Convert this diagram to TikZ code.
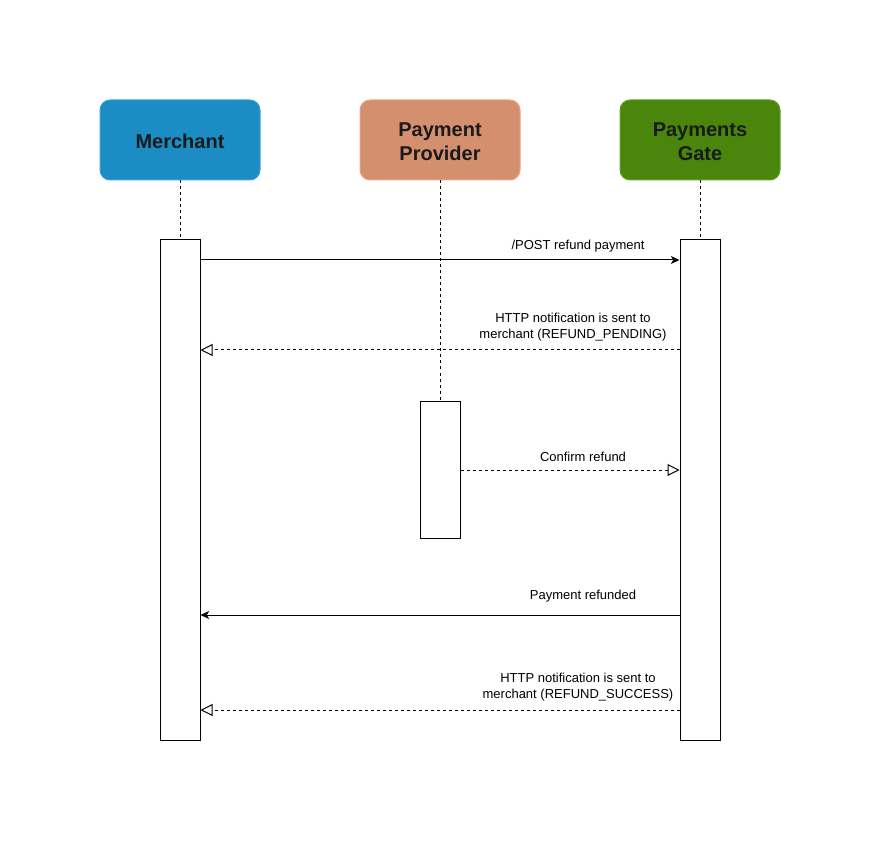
\documentclass[tikz,border=0pt]{standalone}
\usepackage{fontspec}
\setmainfont{Liberation Sans}
\usetikzlibrary{arrows.meta}
\definecolor{mfill}{HTML}{1B8CC4}
\definecolor{mline}{HTML}{3FA3DA}
\definecolor{pfill}{HTML}{D48F6F}
\definecolor{pline}{HTML}{F0A384}
\definecolor{gfill}{HTML}{4A860B}
\definecolor{gline}{HTML}{62A127}
\definecolor{htext}{HTML}{1A1A1A}
\tikzset{
  header/.style={rounded corners=7.5pt, minimum width=120pt, minimum height=60pt, inner sep=0pt,
    font=\fontsize{15pt}{18pt}\selectfont\bfseries, text=htext, align=center, line width=0.75pt},
  actbox/.style={draw=black, fill=white, minimum width=30pt, inner sep=0pt, line width=0.75pt},
  lifeline/.style={dashed, dash pattern=on 2.25pt off 2.25pt, line width=0.75pt},
  syncmsg/.style={line width=0.75pt, -{Stealth[length=6.5pt,width=6pt,inset=1.8pt]}},
  retmsg/.style={line width=0.75pt, dash pattern=on 2.25pt off 2.25pt, -{Triangle[open,length=9pt,width=9pt]}},
  lbl/.style={font=\fontsize{9.75pt}{12pt}\selectfont, align=center, inner sep=0pt, text=black}
}
\begin{document}
\begin{tikzpicture}[x=0.75pt,y=-0.75pt]
\useasboundingbox (0,0) rectangle (881,841);
% headers
\node[header, fill=mfill, draw=mline] (merchant) at (180,140) {};
\node[header, fill=pfill, draw=pline] (provider) at (440,140) {};
\node[header, fill=gfill, draw=gline] (gate) at (700,140) {};
\node[font=\fontsize{15pt}{18pt}\selectfont\bfseries, text=htext, align=center, inner sep=0pt] (mtext) at (180,141.5) {Merchant};
\node[font=\fontsize{15pt}{18pt}\selectfont\bfseries, text=htext, align=center, inner sep=0pt] (ptext) at (440,141.5) {Payment\\Provider};
\node[font=\fontsize{15pt}{18pt}\selectfont\bfseries, text=htext, align=center, inner sep=0pt] (gtext) at (700,141.5) {Payments\\Gate};
% activation boxes
\node[actbox, minimum height=375pt] (mact) at (180,490) {};
\node[actbox, minimum height=102.75pt] (pact) at (440,469.5) {};
\node[actbox, minimum height=375pt] (gact) at (700,490) {};
% lifelines
\draw[lifeline] (merchant.south) -- (mact.north);
\draw[lifeline] (provider.south) -- (pact.north);
\draw[lifeline] (gate.south) -- (gact.north);
% messages
\draw[syncmsg] (mact.east |- 0,260) -- (gact.west |- 0,260);
\node[lbl] (l1) at (578,246.5) {/POST refund payment};
\draw[retmsg] (gact.west |- 0,350) -- (mact.east |- 0,350);
\node[lbl] (l2) at (573,327) {HTTP notification is sent to\\merchant (REFUND\_PENDING)};
\draw[retmsg] (pact.east |- 0,470) -- (gact.west |- 0,470);
\node[lbl] (l3) at (583,456.5) {Confirm refund};
\draw[syncmsg] (gact.west |- 0,615) -- (mact.east |- 0,615);
\node[lbl] (l4) at (583,596.5) {Payment refunded};
\draw[retmsg] (gact.west |- 0,710) -- (mact.east |- 0,710);
\node[lbl] (l5) at (578,687) {HTTP notification is sent to\\merchant (REFUND\_SUCCESS)};
\end{tikzpicture}
\end{document}
